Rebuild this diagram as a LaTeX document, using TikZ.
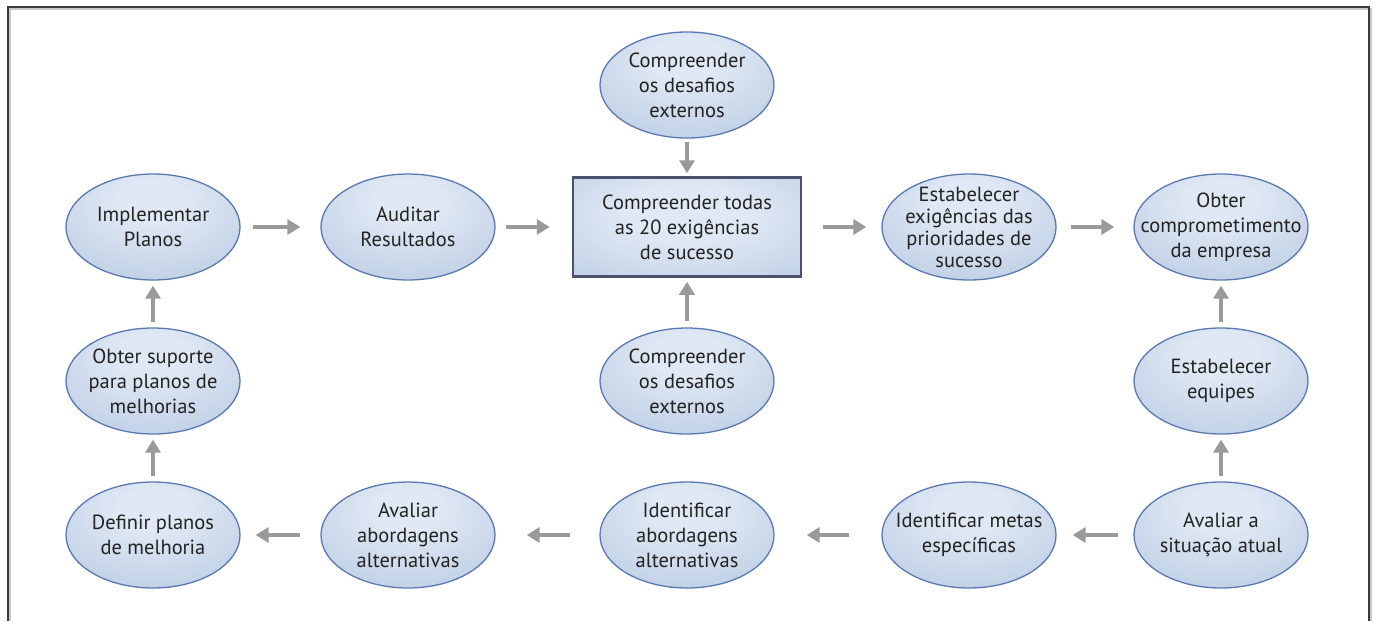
\documentclass[tikz,border=0pt]{standalone}
\usepackage{fontspec}
\setmainfont{PT Sans}
\usetikzlibrary{shapes.geometric,arrows.meta}
\definecolor{ovc}{HTML}{DFE8F4}
\definecolor{ovm}{HTML}{B8C9E2}
\definecolor{ove}{HTML}{92A8CF}
\definecolor{ovb}{HTML}{5B78B2}
\definecolor{rcb}{HTML}{4A5270}
\definecolor{arrc}{HTML}{9A9A9A}
\definecolor{txt}{HTML}{232323}
\definecolor{framec}{HTML}{3A3A3A}
\definecolor{frames}{HTML}{C8C8C8}
\pgfdeclareradialshading{ovalshade}{\pgfpoint{0bp}{14bp}}{color(0bp)=(ovc); color(10bp)=(ovc); color(42bp)=(ovm); color(62bp)=(ove); color(80bp)=(ove)}
\pgfdeclareradialshading{rectshade}{\pgfpoint{0bp}{8bp}}{color(0bp)=(ovc); color(14bp)=(ovc); color(46bp)=(ovm); color(66bp)=(ove); color(80bp)=(ove)}
\tikzset{
  oval/.style={ellipse, minimum width=174pt, minimum height=106pt, inner xsep=-70pt, inner ysep=-40pt,
    shading=ovalshade, draw=ovb, line width=1.3pt, align=center, text=txt,
    font=\fontsize{20.5}{25}\selectfont},
  boxnode/.style={rectangle, minimum width=228pt, minimum height=99pt, inner sep=0pt,
    shading=rectshade, draw=rcb, line width=2.5pt, align=center, text=txt,
    font=\fontsize{20.5}{25}\selectfont},
  arr/.style={draw=arrc, line width=4pt, -{Triangle[length=13pt,width=15pt]}},
  harr/.style={arr, shorten <=12pt, shorten >=20pt},
  varr/.style={arr, shorten <=5pt, shorten >=5pt}
}
\begin{document}
\begin{tikzpicture}[x=1pt,y=-1pt]
\useasboundingbox (0,0) rectangle (1375,621);
\fill[white] (0,0) rectangle (1375,621);
% frame
\draw[frames, line width=1.6pt] (10,621) -- (10,9) -- (1371,9) -- (1371,621);
\draw[framec, line width=1.8pt] (8,621) -- (8,7) -- (1369,7) -- (1369,621);
% nodes
\node[oval] (impl) at (153,227) {Implementar\\Planos};
\node[oval] (aud) at (408,227) {Auditar\\Resultados};
\node[boxnode] (core) at (687,227) {Compreender todas\\as 20 exigências\\de sucesso};
\node[oval, font=\fontsize{20.5}{22}\selectfont] (estab) at (969,227) {Estabelecer\\exigências das\\prioridades de\\sucesso};
\node[oval] (obter) at (1221,227) {Obter\\comprometimento\\da empresa};
\node[oval] (ext1) at (687,85) {Compreender\\os desafios\\externos};
\node[oval] (ext2) at (687,381) {Compreender\\os desafios\\externos};
\node[oval] (sup) at (153,381) {Obter suporte\\para planos de\\melhorias};
\node[oval] (equip) at (1221,381) {Estabelecer\\equipes};
\node[oval] (def) at (153,535) {Definir planos\\de melhoria};
\node[oval] (avab) at (408,535) {Avaliar\\abordagens\\alternativas};
\node[oval] (idab) at (687,535) {Identificar\\abordagens\\alternativas};
\node[oval] (metas) at (969,535) {Identificar metas\\específicas};
\node[oval] (avsit) at (1221,535) {Avaliar a\\situação atual};
% connectors
\draw[harr] (impl.east) -- (aud.west);
\draw[arr, shorten <=10pt, shorten >=22pt] (aud.east) -- (core.west);
\draw[arr, shorten <=21pt, shorten >=15pt] (core.east) -- (estab.west);
\draw[arr, shorten <=14pt, shorten >=19pt] (estab.east) -- (obter.west);
\draw[arr, shorten <=3pt, shorten >=3pt] (ext1.south) -- (core.north);
\draw[arr, shorten <=6pt, shorten >=4pt] (ext2.north) -- (core.south);
\draw[varr] (avsit.north) -- (equip.south);
\draw[varr] (equip.north) -- (obter.south);
\draw[arr, shorten <=15pt, shorten >=16pt] (avsit.west) -- (metas.east);
\draw[arr, shorten <=32pt, shorten >=32pt] (metas.west) -- (idab.east);
\draw[arr, shorten <=29pt, shorten >=31pt] (idab.west) -- (avab.east);
\draw[arr, shorten <=20pt, shorten >=15pt] (avab.west) -- (def.east);
\draw[varr] (def.north) -- (sup.south);
\draw[varr] (sup.north) -- (impl.south);
\end{tikzpicture}
\end{document}
